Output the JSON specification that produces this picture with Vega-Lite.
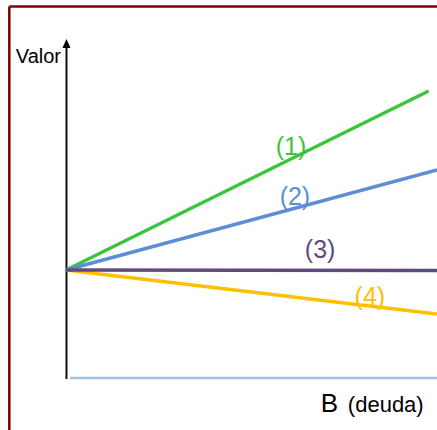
{
  "$schema": "https://vega.github.io/schema/vega-lite/v6.json",
  "width": 437,
  "height": 430,
  "autosize": {"type": "none"},
  "padding": 0,
  "background": "white",
  "view": {"stroke": null},
  "config": {"text": {"font": "Liberation Sans"}},
  "encoding": {
    "x": {"field": "b", "type": "quantitative", "scale": {"domain": [-1.779, 10], "nice": false, "zero": false}, "axis": null},
    "y": {"field": "v", "type": "quantitative", "scale": {"domain": [-4.815, 35], "nice": false, "zero": false}, "axis": null}
  },
  "layer": [
    {
      "description": "Frame: left and top edges",
      "data": {"values": [
        {"b": -1.528, "v": 34.4, "b2": -1.528, "v2": -4.815},
        {"b": -1.528, "v": 34.4, "b2": 10, "v2": 34.4}
      ]},
      "mark": {"type": "rule", "color": "#7f0000", "strokeWidth": 2.5},
      "encoding": {"x2": {"field": "b2"}, "y2": {"field": "v2"}}
    },
    {
      "description": "Horizontal axis (debt)",
      "data": {"values": [{"b": 0.11, "v": 0, "b2": 10, "v2": 0}]},
      "mark": {"type": "rule", "color": "#a7bfdf", "strokeWidth": 2.5},
      "encoding": {"x2": {"field": "b2"}, "y2": {"field": "v2"}}
    },
    {
      "description": "Vertical axis (value)",
      "data": {"values": [{"b": 0.013, "v": -0.1, "b2": 0.013, "v2": 30.7}]},
      "mark": {"type": "rule", "color": "#111111", "strokeWidth": 2},
      "encoding": {"x2": {"field": "b2"}, "y2": {"field": "v2"}}
    },
    {
      "description": "Arrow head of the value axis",
      "data": {"values": [{"b": 0.013, "v": 30.97}]},
      "mark": {"type": "point", "shape": "M0,-1L0.9,1L-0.9,1Z", "size": 81, "filled": true, "color": "#000000", "opacity": 1}
    },
    {
      "description": "Value of the firm as debt grows, one line per case",
      "data": {"values": [
        {"serie": "1", "b": 0, "v": 10},
        {"serie": "1", "b": 9.776, "v": 26.57},
        {"serie": "2", "b": 0, "v": 10},
        {"serie": "2", "b": 10, "v": 19.26},
        {"serie": "4", "b": 0, "v": 10},
        {"serie": "4", "b": 10, "v": 5.93},
        {"serie": "3", "b": 0, "v": 10},
        {"serie": "3", "b": 10, "v": 9.95}
      ]},
      "mark": {"type": "line", "strokeCap": "butt"},
      "encoding": {
        "detail": {"field": "serie"},
        "color": {"field": "serie", "type": "nominal", "legend": null,
          "scale": {"domain": ["1", "2", "3", "4"], "range": ["#3cc43c", "#5b8ed6", "#5e4b7c", "#ffc000"]}},
        "strokeWidth": {"field": "serie", "type": "nominal", "legend": null,
          "scale": {"domain": ["1", "2", "3", "4"], "range": [3.5, 3.5, 4, 3.5]}}
      }
    },
    {
      "description": "Case labels",
      "data": {"values": [
        {"serie": "1", "label": "(1)", "b": 6.065, "v": 21.39},
        {"serie": "2", "label": "(2)", "b": 6.17, "v": 16.76},
        {"serie": "3", "label": "(3)", "b": 6.85, "v": 11.85},
        {"serie": "4", "label": "(4)", "b": 8.19, "v": 7.5}
      ]},
      "mark": {"type": "text", "fontSize": 25, "align": "center", "baseline": "middle"},
      "encoding": {
        "text": {"field": "label"},
        "color": {"field": "serie", "type": "nominal", "legend": null}
      }
    },
    {
      "description": "Axis titles",
      "data": {"values": [
        {"label": "Valor", "b": -0.135, "v": 29.21, "fs": 20, "al": "right"},
        {"label": "B", "b": 6.865, "v": -3.12, "fs": 26, "al": "left"},
        {"label": "(deuda)", "b": 7.597, "v": -3.12, "fs": 22, "al": "left"}
      ]},
      "mark": {"type": "text", "baseline": "alphabetic", "color": "#000000", "align": {"expr": "datum.al"}, "fontSize": {"expr": "datum.fs"}},
      "encoding": {"text": {"field": "label"}}
    }
  ]
}
